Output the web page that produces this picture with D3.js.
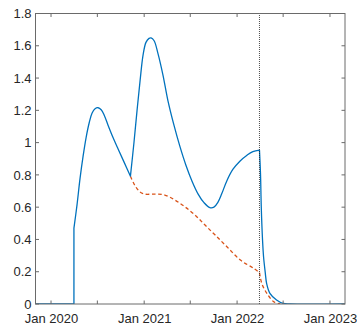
<!DOCTYPE html>
<html>
<head>
<meta charset="utf-8">
<script src="https://cdn.jsdelivr.net/npm/d3@7"></script>
<style>
html,body{margin:0;padding:0;background:#fff;}
svg{display:block;}
</style>
</head>
<body>
<svg id="chart" width="357" height="330"></svg>
<script>
// ---- data ----
const xDomain = ["2019-11-01", "2023-03-01"];
const yDomain = [0, 1.8];
const xTickDates = ["2020-01-01","2020-07-01","2021-01-01","2021-07-01","2022-01-01","2022-07-01","2023-01-01"];
const xTickLabels = ["Jan 2020","","Jan 2021","","Jan 2022","","Jan 2023"];
const yTickValues = [0,0.2,0.4,0.6,0.8,1,1.2,1.4,1.6,1.8];
const yTickLabels = ["0","0.2","0.4","0.6","0.8","1","1.2","1.4","1.6","1.8"];

const blueDates = [
  "2019-11-01","2020-03-31",
  "2020-03-31","2020-04-12","2020-04-24","2020-05-06","2020-05-18","2020-05-30","2020-06-10","2020-06-22","2020-07-04","2020-07-16","2020-07-28","2020-08-12","2020-09-01","2020-09-21","2020-10-14","2020-11-08",
  "2020-11-22","2020-12-04","2020-12-16","2020-12-28","2021-01-08","2021-01-20","2021-01-28","2021-02-09","2021-02-24","2021-03-16","2021-04-04","2021-04-28","2021-05-21","2021-06-14","2021-07-08","2021-08-01","2021-08-24","2021-09-16","2021-10-02","2021-10-18","2021-11-02","2021-11-22","2021-12-16","2022-01-12","2022-02-09","2022-03-04","2022-03-30",
  "2022-04-03","2022-04-06","2022-04-11","2022-04-15","2022-04-22","2022-04-27","2022-05-10","2022-06-05","2022-07-01","2022-07-28","2023-03-01"];
const blueValues = [
  0,0,
  0.47,0.613,0.778,0.916,1.033,1.123,1.182,1.210,1.216,1.204,1.170,1.108,1.030,0.959,0.879,0.792,
  1.002,1.200,1.386,1.547,1.621,1.646,1.649,1.631,1.553,1.417,1.262,1.108,0.978,0.860,0.761,0.681,0.628,0.597,0.600,0.631,0.684,0.764,0.835,0.885,0.922,0.944,0.953,
  0.809,0.602,0.396,0.293,0.190,0.128,0.066,0.025,0.004,0,0];
const blueCorners = ["2020-11-08","2022-03-30"];

const orangeDates = ["2020-11-08","2020-11-25","2020-12-15","2021-01-03","2021-02-12","2021-03-23","2021-05-02","2021-06-10","2021-07-20","2021-08-28","2021-10-07","2021-11-22","2022-01-14","2022-03-07","2022-03-30",
  "2022-04-08","2022-04-28","2022-05-25","2022-06-20"];
const orangeValues = [0.792,0.736,0.695,0.681,0.681,0.675,0.644,0.602,0.551,0.489,0.427,0.355,0.272,0.221,0.195,
  0.128,0.066,0.014,0];
const orangeCorners = ["2022-03-30"];

const markerDate = "2022-03-30";

// ---- layout ----
const W = 357, H = 330;
const m = {left: 35.5, right: 12, top: 13.5, bottom: 26};
const parse = d3.timeParse("%Y-%m-%d");
const svg = d3.select("#chart");

const x = d3.scaleTime().domain(xDomain.map(parse)).range([m.left, W - m.right]);
const y = d3.scaleLinear().domain(yDomain).range([H - m.bottom, m.top]);

const line = d3.line().x(p => x(p.t)).y(p => y(p.v)).curve(d3.curveCatmullRom.alpha(0.5));

function pieces(dates, values, corners) {
  const pts = dates.map((d, i) => ({t: parse(d), v: values[i], s: d}));
  const out = [[pts[0]]];
  for (let i = 1; i < pts.length; i++) {
    const p = pts[i], cur = out[out.length - 1];
    if (p.s === pts[i - 1].s) { out.push([p]); }
    else { cur.push(p); if (corners.includes(p.s)) out.push([p]); }
  }
  return out.filter(a => a.length > 1);
}
function pathOf(dates, values, corners) {
  return pieces(dates, values, corners).map((pc, i) => {
    const s = line(pc);
    return i ? s.replace(/^M/, "L") : s;
  }).join("");
}

const axisColor = "#6a6a6a";
const textColor = "#262626";
const font = "'Liberation Sans', Arial, Helvetica, sans-serif";

svg.append("defs").append("clipPath").attr("id", "clip")
  .append("rect").attr("x", m.left).attr("y", m.top)
  .attr("width", W - m.right - m.left).attr("height", H - m.bottom - m.top);

const plot = svg.append("g").attr("clip-path", "url(#clip)");

plot.append("path")
  .attr("d", pathOf(orangeDates, orangeValues, orangeCorners))
  .attr("fill", "none").attr("stroke", "#D95319")
  .attr("stroke-width", 1.3).attr("stroke-dasharray", "3.6,2.6");

plot.append("path")
  .attr("d", pathOf(blueDates, blueValues, blueCorners))
  .attr("fill", "none").attr("stroke", "#0072BD")
  .attr("stroke-width", 1.3).attr("stroke-linejoin", "round");

plot.append("line")
  .attr("x1", x(parse(markerDate))).attr("x2", x(parse(markerDate)))
  .attr("y1", y(yDomain[0])).attr("y2", y(yDomain[1]))
  .attr("stroke", "#222").attr("stroke-width", 0.8).attr("stroke-dasharray", "1,1");

const tickLen = 3.5;
const xTicks = xTickDates.map(parse);
const gx = svg.append("g").attr("transform", `translate(0,${H - m.bottom})`)
  .call(d3.axisBottom(x).tickValues(xTicks).tickSize(0).tickPadding(10)
    .tickFormat((d, i) => xTickLabels[i]));
const gy = svg.append("g").attr("transform", `translate(${m.left},0)`)
  .call(d3.axisLeft(y).tickValues(yTickValues).tickSize(0).tickPadding(4)
    .tickFormat((d, i) => yTickLabels[i]));
[gx, gy].forEach(g => {
  g.select(".domain").remove();
  g.selectAll("text").attr("fill", textColor).style("font-family", font).style("font-size", "13px");
});

const tk = svg.append("g").attr("stroke", axisColor).attr("stroke-width", 1);
xTicks.forEach(t => {
  const xp = x(t);
  tk.append("line").attr("x1", xp).attr("x2", xp).attr("y1", y(0)).attr("y2", y(0) - tickLen);
  tk.append("line").attr("x1", xp).attr("x2", xp).attr("y1", y(1.8)).attr("y2", y(1.8) + tickLen);
});
yTickValues.forEach(v => {
  const yp = y(v);
  tk.append("line").attr("x1", m.left).attr("x2", m.left + tickLen).attr("y1", yp).attr("y2", yp);
  tk.append("line").attr("x1", W - m.right).attr("x2", W - m.right - tickLen).attr("y1", yp).attr("y2", yp);
});

svg.append("rect").attr("x", m.left).attr("y", m.top)
  .attr("width", W - m.right - m.left).attr("height", H - m.bottom - m.top)
  .attr("fill", "none").attr("stroke", axisColor).attr("stroke-width", 1);
</script>
</body>
</html>
